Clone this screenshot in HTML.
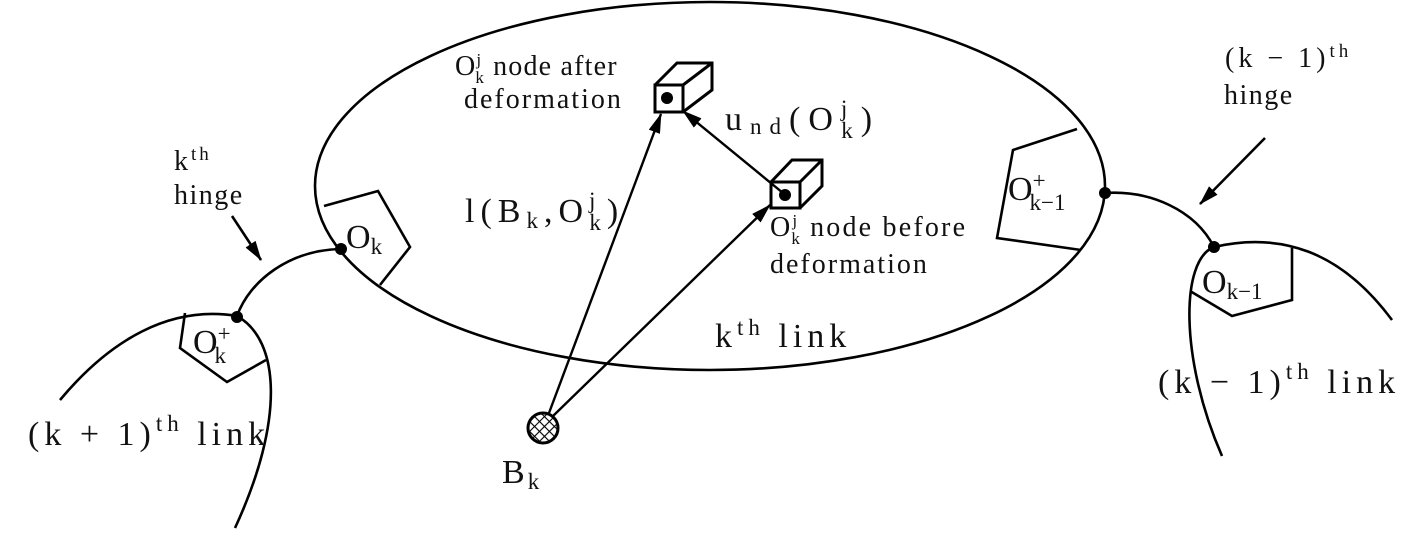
<!DOCTYPE html>
<html><head><meta charset="utf-8"><style>
html,body{margin:0;padding:0;background:#fff}
svg{display:block}
text{font-family:"Liberation Serif",serif;fill:#111}
</style></head><body>
<svg width="1412" height="541" viewBox="0 0 1412 541" xmlns="http://www.w3.org/2000/svg">
<defs>
<marker id="ah2" markerWidth="20" markerHeight="12" refX="19" refY="6" orient="auto" markerUnits="userSpaceOnUse">
<path d="M0,0 L20,6 L0,12 Z" fill="#000"/>
</marker>
<pattern id="hatch" width="7" height="7" patternUnits="userSpaceOnUse" patternTransform="rotate(45)">
<path d="M0,0 H7 M0,0 V7" stroke="#000" stroke-width="2.2"/>
</pattern>
</defs>
<g fill="none" stroke="#000" stroke-width="2.6">
<ellipse cx="710" cy="186" rx="395" ry="184"/>
<polyline points="324,206 378,191 410,247 380,285"/>
<polyline points="1077,129 1013,150 997,238 1081,250"/>
<path d="M341,249 C290,250 250,280 237,316"/>
<path d="M60,400 C110,340 170,305 237,316"/>
<path d="M237,316 C280,340 285,420 235,528"/>
<polyline points="185,313 180,348 227,382 266,360"/>
<path d="M1105,193 C1150,190 1195,210 1214,247"/>
<path d="M1214,247 C1280,232 1340,250 1392,320"/>
<path d="M1214,247 C1180,260 1180,360 1222,456"/>
<polyline points="1292,248 1292,300 1232,316 1190,291"/>
<line x1="232" y1="216" x2="261" y2="260" marker-end="url(#ah2)"/>
<line x1="1265" y1="138" x2="1200" y2="204" marker-end="url(#ah2)"/>
<line x1="549" y1="413" x2="661" y2="114" marker-end="url(#ah2)" stroke-width="2.4"/>
<line x1="553" y1="416" x2="770" y2="205" marker-end="url(#ah2)" stroke-width="2.4"/>
<line x1="783" y1="193" x2="683" y2="111" marker-end="url(#ah2)" stroke-width="2.4"/>
<g stroke-width="3">
<rect x="655" y="85" width="28" height="27"/>
<polyline points="655,85 677,63 712,63 712,90 683,112"/>
<line x1="683" y1="85" x2="712" y2="63"/>
<rect x="771" y="182" width="29" height="26"/>
<polyline points="771,182 792,160 822,160 822,186 800,208"/>
<line x1="800" y1="182" x2="822" y2="160"/>
</g>
</g>
<g fill="#000">
<circle cx="667" cy="98" r="6"/>
<circle cx="785" cy="195" r="6"/>
<circle cx="341" cy="249" r="6"/>
<circle cx="237" cy="317" r="6"/>
<circle cx="1105" cy="193" r="6"/>
<circle cx="1214" cy="247" r="6"/>
</g>
<circle cx="543" cy="428" r="15" fill="url(#hatch)" stroke="#000" stroke-width="3"/>
<text x="455" y="75" font-size="28" letter-spacing="1.2">O<tspan font-size="17" dy="-10">j</tspan><tspan font-size="17" dx="-7" dy="18">k</tspan><tspan dy="-8" dx="8">node after</tspan></text>
<text x="464" y="108" font-size="28" letter-spacing="2">deformation</text>
<text x="725" y="130" font-size="34" letter-spacing="8">u<tspan font-size="23" dy="4">nd</tspan><tspan dy="-4">(O</tspan><tspan font-size="23" dy="-14">j</tspan><tspan font-size="23" dx="-14" dy="22">k</tspan><tspan dy="-8">)</tspan></text>
<text x="465" y="222" font-size="34" letter-spacing="6">l(B<tspan font-size="23" dy="6">k</tspan><tspan dy="-6">,O</tspan><tspan font-size="23" dy="-14">j</tspan><tspan font-size="23" dx="-12" dy="22">k</tspan><tspan dy="-8">)</tspan></text>
<text x="770" y="236" font-size="28" letter-spacing="2.2">O<tspan font-size="17" dy="-10">j</tspan><tspan font-size="17" dx="-8" dy="18">k</tspan><tspan dy="-8" dx="8">node before</tspan></text>
<text x="770" y="273" font-size="28" letter-spacing="2">deformation</text>
<text x="715" y="347" font-size="34" letter-spacing="5">k<tspan font-size="23" dy="-12">th</tspan><tspan dy="12"> link</tspan></text>
<text x="346" y="248" font-size="34">O<tspan font-size="23" dy="6">k</tspan></text>
<text x="193" y="353" font-size="34">O<tspan font-size="23" dy="-12">+</tspan><tspan font-size="23" dx="-16" dy="22">k</tspan></text>
<text x="1008" y="200" font-size="34">O<tspan font-size="23" dy="-12">+</tspan><tspan font-size="23" dx="-16" dy="22">k−1</tspan></text>
<text x="1202" y="293" font-size="34">O<tspan font-size="23" dy="6">k−1</tspan></text>
<text x="174" y="170" font-size="28" letter-spacing="3">k<tspan font-size="19" dy="-10">th</tspan></text>
<text x="174" y="204" font-size="28" letter-spacing="1.5">hinge</text>
<text x="1225" y="67" font-size="28" letter-spacing="4">(k − 1)<tspan font-size="19" dy="-10">th</tspan></text>
<text x="1224" y="104" font-size="28" letter-spacing="1.5">hinge</text>
<text x="28" y="445" font-size="34" letter-spacing="5">(k + 1)<tspan font-size="23" dy="-14">th</tspan><tspan dy="14"> link</tspan></text>
<text x="1158" y="393" font-size="34" letter-spacing="5">(k − 1)<tspan font-size="23" dy="-14">th</tspan><tspan dy="14"> link</tspan></text>
<text x="502" y="483" font-size="34" letter-spacing="3">B<tspan font-size="23" dy="6">k</tspan></text>
</svg>
</body></html>
